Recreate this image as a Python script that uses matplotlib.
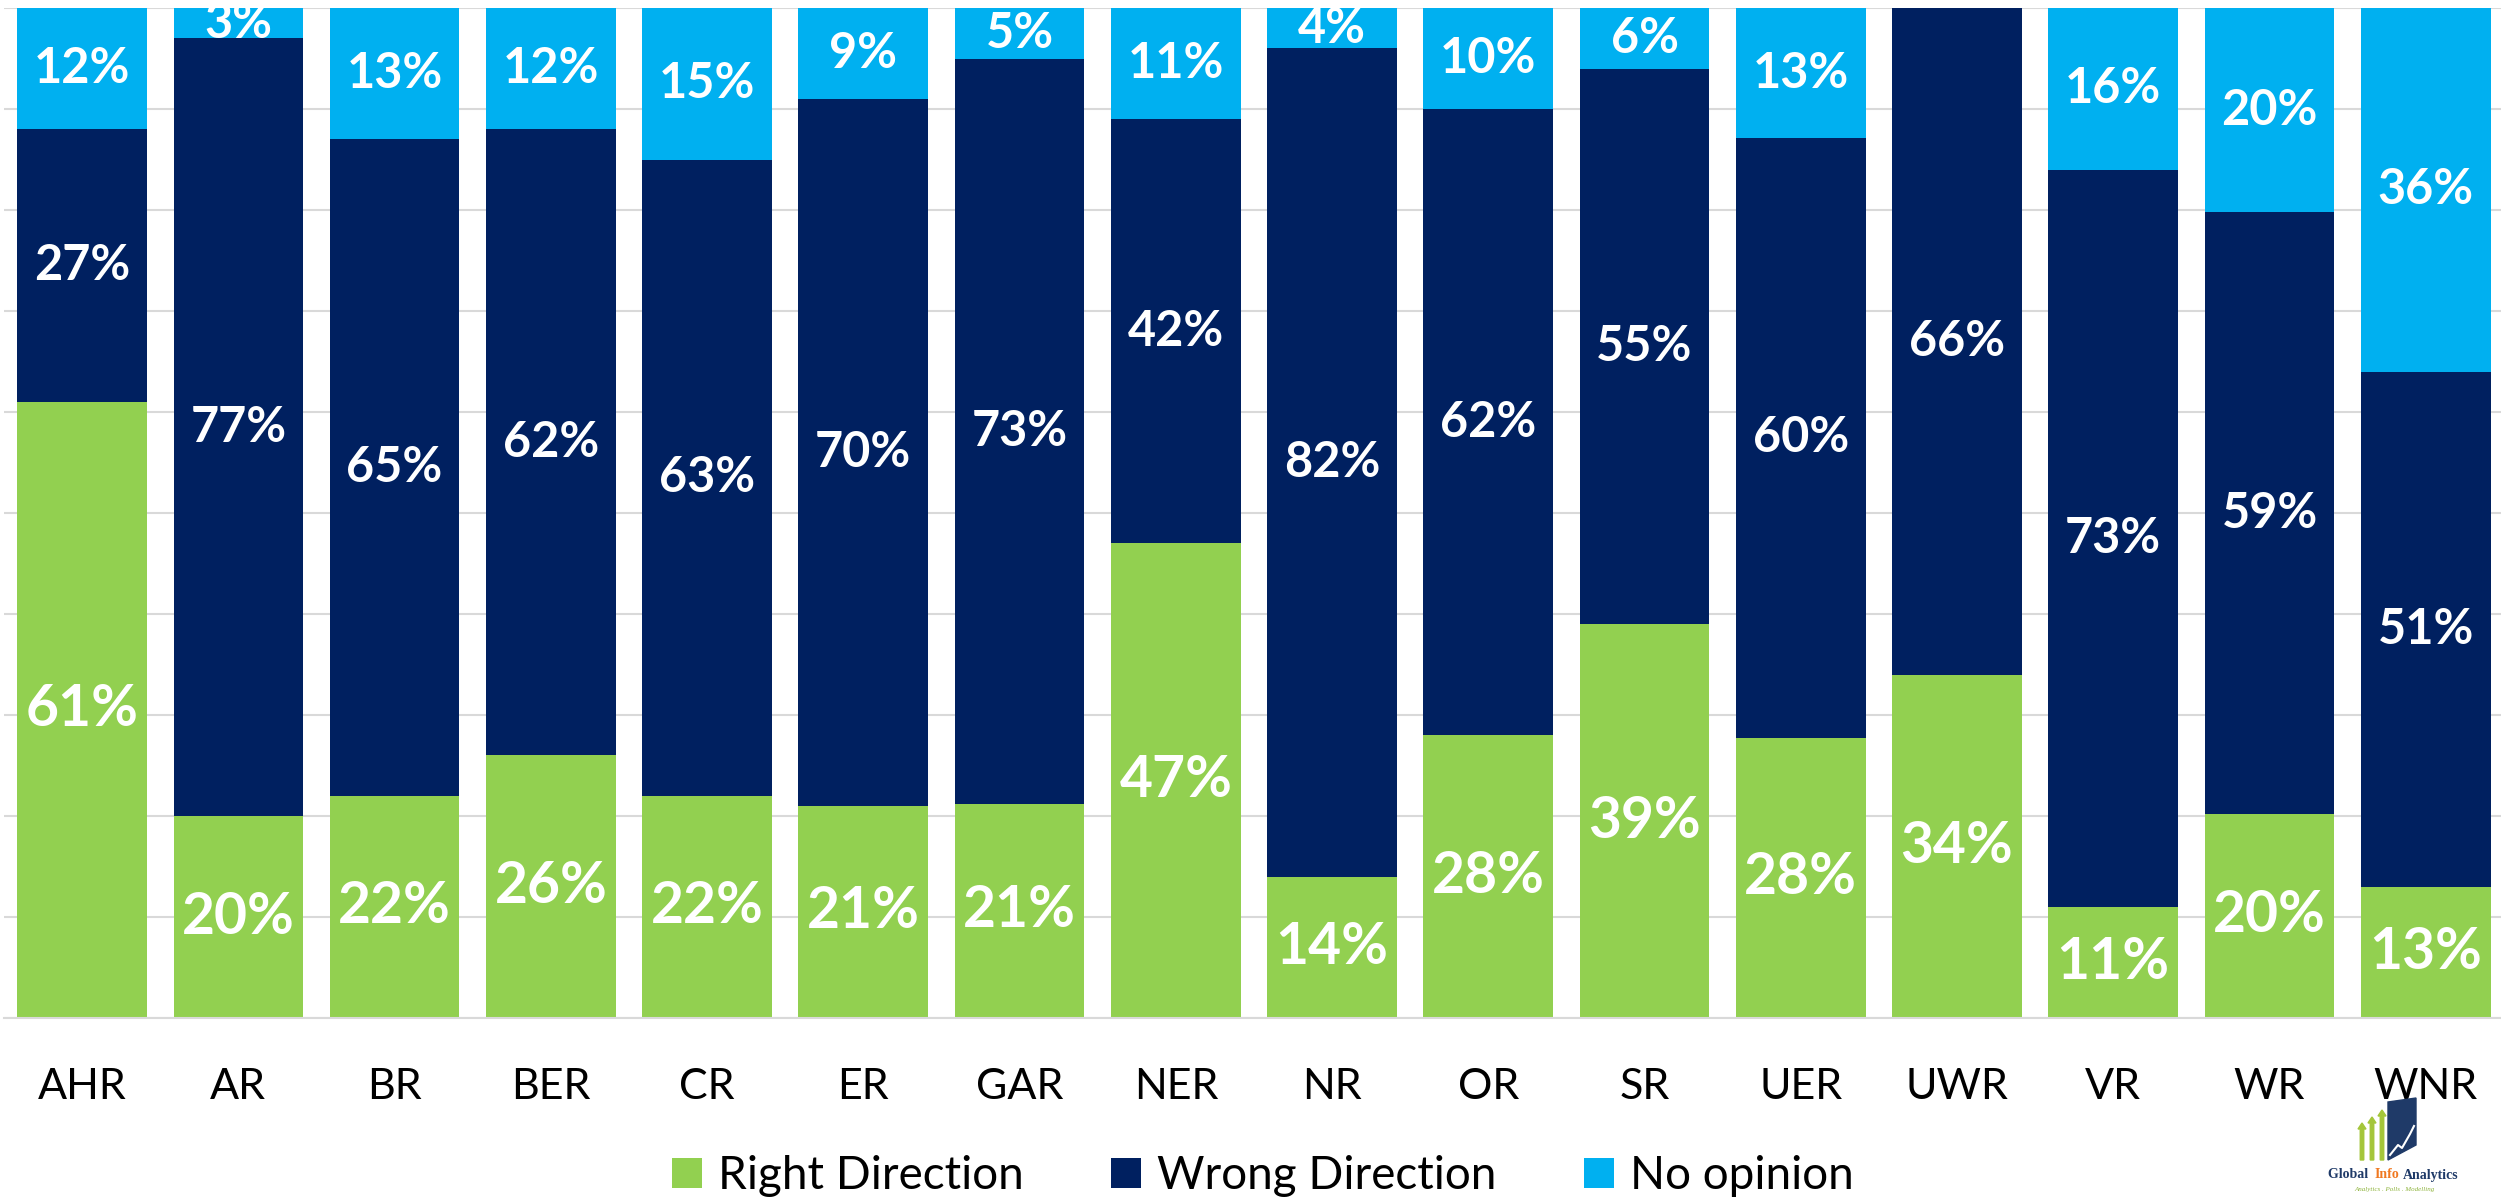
import numpy as np
import matplotlib
matplotlib.use("Agg")
import matplotlib.pyplot as plt
from matplotlib.patches import Polygon, FancyArrow

# Data: survey shares per region (percent)
regions = ["AHR", "AR", "BR", "BER", "CR", "ER", "GAR", "NER",
           "NR", "OR", "SR", "UER", "UWR", "VR", "WR", "WNR"]
right_dir = [61, 20, 22, 26, 22, 21, 21, 47, 14, 28, 39, 28, 34, 11, 20, 13]
wrong_dir = [27, 77, 65, 62, 63, 70, 73, 42, 82, 62, 55, 60, 66, 73, 59, 51]
no_opinion = [12, 3, 13, 12, 15, 9, 5, 11, 4, 10, 6, 13, 0, 16, 20, 36]

series_names = ["Right Direction", "Wrong Direction", "No opinion"]
colors = ["#92D050", "#002060", "#00B0F0"]
label_sizes = [41, 35, 35]

plt.rcParams['font.family'] = ['Lato', 'DejaVu Sans']

W, H = 2501, 1200
fig = plt.figure(figsize=(W / 100, H / 100), dpi=100)
ax = fig.add_axes([4 / W, 1 - 1018 / H, 2503 / W, 1010 / H])

raw = np.array([right_dir, wrong_dir, no_opinion], dtype=float)
totals = raw.sum(axis=0)
shares = raw / totals * 100  # 100% stacked, like the original

x = np.arange(len(regions))
bottom = np.zeros(len(regions))
for i, name in enumerate(series_names):
    ax.bar(x, shares[i], width=0.83, bottom=bottom, color=colors[i],
           label=name, zorder=2)
    for j in range(len(regions)):
        if raw[i, j] > 0:
            ax.text(x[j], bottom[j] + shares[i, j] / 2, "%d%%" % raw[i, j],
                    ha="center", va="center", color="white",
                    fontsize=label_sizes[i], fontweight="bold", zorder=3)
    bottom += shares[i]

ax.set_xlim(-0.5, 15.52)
ax.set_ylim(0, 100)
ax.set_yticks(np.arange(0, 101, 10))
ax.yaxis.grid(True, color="#D9D9D9", linewidth=1.5, zorder=0)
ax.set_axisbelow(True)
ax.tick_params(axis="y", left=False, labelleft=False)
ax.tick_params(axis="x", length=0, pad=36, labelsize=31)
ax.set_xticks(x)
ax.set_xticklabels(regions)
for side in ["top", "right", "left"]:
    ax.spines[side].set_visible(False)
ax.spines["bottom"].set_color("#D9D9D9")
ax.spines["bottom"].set_linewidth(1.5)

fig.legend(loc="center", bbox_to_anchor=(0.505, 1 - 1176 / H), ncol=3,
           frameon=False, fontsize=33, handlelength=0.65, handleheight=0.65,
           handletextpad=0.36, columnspacing=1.9)

# Logo (bottom right)
logo = fig.add_axes([2320 / W, 0, 150 / W, 115 / H])
logo.set_xlim(0, 150)
logo.set_ylim(0, 115)
logo.axis("off")
for xa, top in [(42, 77), (52, 83), (62, 90)]:
    logo.add_patch(FancyArrow(xa, 40, 0, top - 40, width=3.5, head_width=8,
                              head_length=6, color="#A4C63A",
                              length_includes_head=True))
logo.add_patch(Polygon([[68, 40], [96, 55], [96, 102], [68, 98]],
                       closed=True, color="#1F3A68"))
logo.plot([70, 78, 82, 90, 94], [45, 55, 52, 66, 74], color="white", lw=1.5)
logo.text(8, 25, "Global ", color="#1F3A68", fontsize=10, fontweight="bold",
          family="Liberation Serif", va="center")
logo.text(55, 25, "Info", color="#F07820", fontsize=10, fontweight="bold",
          family="Liberation Serif", va="center")
logo.text(83, 25, "Analytics", color="#1F3A68", fontsize=10, fontweight="bold",
          family="Liberation Serif", va="center")
logo.text(75, 10, "Analytics . Polls . Modelling", color="#8DB33A", fontsize=5,
          style="italic", family="Liberation Serif", ha="center", va="center")

fig.savefig("out.png", dpi=100)
